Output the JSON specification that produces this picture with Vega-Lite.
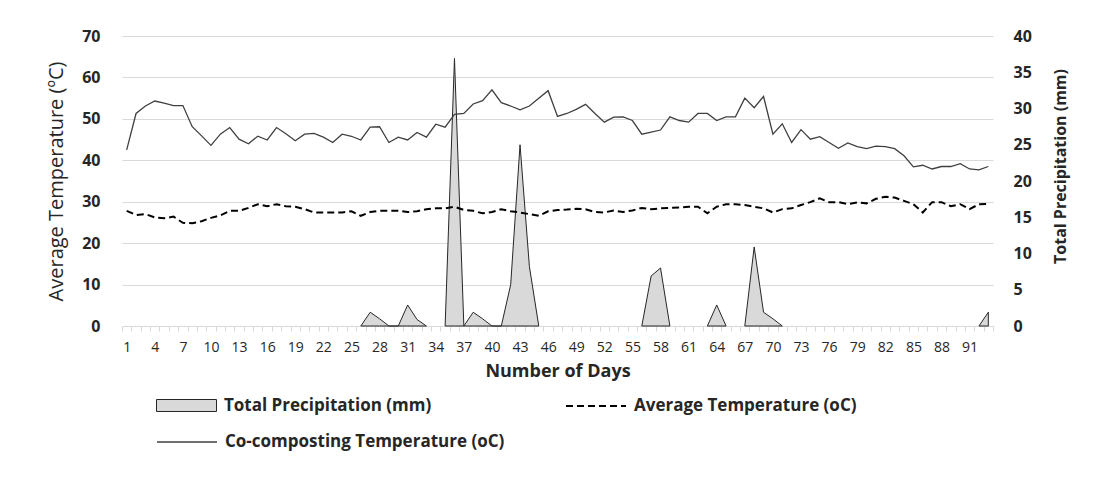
{
  "$schema": "https://vega.github.io/schema/vega-lite/v6.json",
  "width": 871,
  "height": 290,
  "autosize": {"type": "none"},
  "padding": {"left": 122, "top": 36, "right": 104, "bottom": 170},
  "background": "white",
  "config": {
    "font": "Open Sans",
    "view": {"stroke": null},
    "axis": {"labelColor": "#262626", "titleColor": "#262626"},
    "legend": {"labelFontSize": 17, "labelFontWeight": "bold", "labelColor": "#262626", "labelLimit": 500, "labelOffset": 7, "title": null}
  },
  "data": {
    "values": [
      {"day": 1, "co": 42.5, "avg": 27.8, "precip": null},
      {"day": 2, "co": 51.3, "avg": 26.8, "precip": null},
      {"day": 3, "co": 53.1, "avg": 27.0, "precip": null},
      {"day": 4, "co": 54.3, "avg": 26.2, "precip": null},
      {"day": 5, "co": 53.8, "avg": 26.0, "precip": null},
      {"day": 6, "co": 53.2, "avg": 26.4, "precip": null},
      {"day": 7, "co": 53.2, "avg": 24.9, "precip": null},
      {"day": 8, "co": 48.1, "avg": 24.8, "precip": null},
      {"day": 9, "co": 45.9, "avg": 25.3, "precip": null},
      {"day": 10, "co": 43.6, "avg": 26.1, "precip": null},
      {"day": 11, "co": 46.3, "avg": 26.7, "precip": null},
      {"day": 12, "co": 47.9, "avg": 27.8, "precip": null},
      {"day": 13, "co": 45.1, "avg": 27.8, "precip": null},
      {"day": 14, "co": 44.0, "avg": 28.5, "precip": null},
      {"day": 15, "co": 45.8, "avg": 29.4, "precip": null},
      {"day": 16, "co": 44.9, "avg": 28.9, "precip": null},
      {"day": 17, "co": 47.9, "avg": 29.4, "precip": null},
      {"day": 18, "co": 46.4, "avg": 28.9, "precip": null},
      {"day": 19, "co": 44.7, "avg": 28.8, "precip": null},
      {"day": 20, "co": 46.3, "avg": 28.2, "precip": null},
      {"day": 21, "co": 46.5, "avg": 27.4, "precip": null},
      {"day": 22, "co": 45.6, "avg": 27.4, "precip": null},
      {"day": 23, "co": 44.3, "avg": 27.4, "precip": null},
      {"day": 24, "co": 46.3, "avg": 27.4, "precip": null},
      {"day": 25, "co": 45.8, "avg": 27.7, "precip": null},
      {"day": 26, "co": 44.9, "avg": 26.6, "precip": 0},
      {"day": 27, "co": 48.0, "avg": 27.5, "precip": 1.9},
      {"day": 28, "co": 48.1, "avg": 27.8, "precip": 1.0},
      {"day": 29, "co": 44.3, "avg": 27.8, "precip": 0},
      {"day": 30, "co": 45.6, "avg": 27.8, "precip": 0},
      {"day": 31, "co": 44.9, "avg": 27.5, "precip": 2.9},
      {"day": 32, "co": 46.7, "avg": 27.7, "precip": 0.9},
      {"day": 33, "co": 45.6, "avg": 28.2, "precip": 0},
      {"day": 34, "co": 48.7, "avg": 28.4, "precip": null},
      {"day": 35, "co": 48.0, "avg": 28.4, "precip": 0},
      {"day": 36, "co": 51.1, "avg": 28.8, "precip": 36.9},
      {"day": 37, "co": 51.3, "avg": 28.0, "precip": 0},
      {"day": 38, "co": 53.6, "avg": 27.8, "precip": 1.9},
      {"day": 39, "co": 54.4, "avg": 27.2, "precip": 1.0},
      {"day": 40, "co": 57.0, "avg": 27.5, "precip": 0},
      {"day": 41, "co": 53.9, "avg": 28.2, "precip": 0},
      {"day": 42, "co": 53.1, "avg": 27.7, "precip": 5.7},
      {"day": 43, "co": 52.2, "avg": 27.4, "precip": 25.0},
      {"day": 44, "co": 53.1, "avg": 27.0, "precip": 8.2},
      {"day": 45, "co": 55.0, "avg": 26.6, "precip": 0},
      {"day": 46, "co": 56.8, "avg": 27.7, "precip": null},
      {"day": 47, "co": 50.6, "avg": 28.0, "precip": null},
      {"day": 48, "co": 51.3, "avg": 28.1, "precip": null},
      {"day": 49, "co": 52.3, "avg": 28.3, "precip": null},
      {"day": 50, "co": 53.5, "avg": 28.2, "precip": null},
      {"day": 51, "co": 51.3, "avg": 27.5, "precip": null},
      {"day": 52, "co": 49.2, "avg": 27.4, "precip": null},
      {"day": 53, "co": 50.4, "avg": 27.9, "precip": null},
      {"day": 54, "co": 50.5, "avg": 27.5, "precip": null},
      {"day": 55, "co": 49.6, "avg": 27.9, "precip": null},
      {"day": 56, "co": 46.3, "avg": 28.5, "precip": 0},
      {"day": 57, "co": 46.8, "avg": 28.2, "precip": 6.9},
      {"day": 58, "co": 47.3, "avg": 28.4, "precip": 8.0},
      {"day": 59, "co": 50.5, "avg": 28.5, "precip": 0},
      {"day": 60, "co": 49.6, "avg": 28.6, "precip": null},
      {"day": 61, "co": 49.2, "avg": 28.8, "precip": null},
      {"day": 62, "co": 51.3, "avg": 28.8, "precip": null},
      {"day": 63, "co": 51.3, "avg": 27.2, "precip": 0},
      {"day": 64, "co": 49.6, "avg": 28.8, "precip": 2.9},
      {"day": 65, "co": 50.5, "avg": 29.4, "precip": 0},
      {"day": 66, "co": 50.5, "avg": 29.4, "precip": null},
      {"day": 67, "co": 55.0, "avg": 29.2, "precip": 0},
      {"day": 68, "co": 52.7, "avg": 28.8, "precip": 10.9},
      {"day": 69, "co": 55.4, "avg": 28.4, "precip": 1.9},
      {"day": 70, "co": 46.3, "avg": 27.4, "precip": 1.0},
      {"day": 71, "co": 48.8, "avg": 28.2, "precip": 0},
      {"day": 72, "co": 44.3, "avg": 28.4, "precip": null},
      {"day": 73, "co": 47.4, "avg": 29.2, "precip": null},
      {"day": 74, "co": 45.1, "avg": 29.9, "precip": null},
      {"day": 75, "co": 45.7, "avg": 30.8, "precip": null},
      {"day": 76, "co": 44.3, "avg": 29.9, "precip": null},
      {"day": 77, "co": 42.9, "avg": 29.9, "precip": null},
      {"day": 78, "co": 44.2, "avg": 29.4, "precip": null},
      {"day": 79, "co": 43.3, "avg": 29.8, "precip": null},
      {"day": 80, "co": 42.8, "avg": 29.6, "precip": null},
      {"day": 81, "co": 43.4, "avg": 30.7, "precip": null},
      {"day": 82, "co": 43.3, "avg": 31.2, "precip": null},
      {"day": 83, "co": 42.8, "avg": 31.0, "precip": null},
      {"day": 84, "co": 41.1, "avg": 30.2, "precip": null},
      {"day": 85, "co": 38.4, "avg": 29.4, "precip": null},
      {"day": 86, "co": 38.8, "avg": 27.4, "precip": null},
      {"day": 87, "co": 37.9, "avg": 29.9, "precip": null},
      {"day": 88, "co": 38.5, "avg": 29.9, "precip": null},
      {"day": 89, "co": 38.5, "avg": 28.9, "precip": null},
      {"day": 90, "co": 39.2, "avg": 29.4, "precip": null},
      {"day": 91, "co": 37.9, "avg": 28.2, "precip": null},
      {"day": 92, "co": 37.7, "avg": 29.4, "precip": 0},
      {"day": 93, "co": 38.5, "avg": 29.5, "precip": 1.9}
    ]
  },
  "encoding": {
    "x": {
      "field": "day",
      "type": "quantitative",
      "scale": {"domain": [0.5, 93.5], "nice": false, "zero": false},
      "axis": {
        "title": "Number of Days",
        "titleFontSize": 18,
        "titleFontWeight": "bold",
        "titlePadding": 8,
        "values": [0.5,1.5,2.5,3.5,4.5,5.5,6.5,7.5,8.5,9.5,10.5,11.5,12.5,13.5,14.5,15.5,16.5,17.5,18.5,19.5,20.5,21.5,22.5,23.5,24.5,25.5,26.5,27.5,28.5,29.5,30.5,31.5,32.5,33.5,34.5,35.5,36.5,37.5,38.5,39.5,40.5,41.5,42.5,43.5,44.5,45.5,46.5,47.5,48.5,49.5,50.5,51.5,52.5,53.5,54.5,55.5,56.5,57.5,58.5,59.5,60.5,61.5,62.5,63.5,64.5,65.5,66.5,67.5,68.5,69.5,70.5,71.5,72.5,73.5,74.5,75.5,76.5,77.5,78.5,79.5,80.5,81.5,82.5,83.5,84.5,85.5,86.5,87.5,88.5,89.5,90.5,91.5,92.5,93.5,1,4,7,10,13,16,19,22,25,28,31,34,37,40,43,46,49,52,55,58,61,64,67,70,73,76,79,82,85,88,91],
        "labelExpr": "datum.value % 1 === 0 ? datum.label : ''",
        "labelOverlap": false,
        "labelBound": false,
        "labelFlush": false,
        "labelFontSize": 14,
        "labelPadding": 9,
        "grid": false,
        "domainColor": "#d9d9d9",
        "tickColor": "#d9d9d9",
        "tickSize": 5,
        "tickOpacity": {"condition": {"test": "datum.value % 1 === 0", "value": 0}, "value": 1}
      }
    }
  },
  "layer": [
    {
      "mark": {"type": "area", "stroke": "#262626", "strokeWidth": 1, "invalid": "break-paths-show-domains", "fillOpacity": 1},
      "encoding": {
        "y": {
          "field": "precip",
          "type": "quantitative",
          "scale": {"domain": [0, 40], "nice": false},
          "axis": {
            "orient": "right",
            "title": "Total Precipitation (mm)",
            "titleFontSize": 16,
            "titleFontWeight": "bold",
            "titleAngle": -90,
            "titleBaseline": "top",
            "titleY": 130,
            "titlePadding": 21,
            "values": [0, 5, 10, 15, 20, 25, 30, 35, 40],
            "labelFontSize": 16,
            "labelFontWeight": "bold",
            "labelPadding": 20,
            "ticks": false,
            "tickSize": 0,
            "domain": false,
            "grid": false
          }
        },
        "fill": {
          "datum": "Total Precipitation (mm)",
          "type": "nominal",
          "scale": {"range": ["#d9d9d9"]},
          "legend": {
            "orient": "none",
            "legendX": 34,
            "legendY": 339,
            "symbolType": "M-1,-0.2H1V0.2H-1Z",
            "symbolSize": 3600,
            "symbolStrokeColor": "#262626",
            "symbolStrokeWidth": 1,
            "symbolOpacity": 1
          }
        }
      }
    },
    {
      "layer": [
        {
          "mark": {"type": "line", "color": "#000000", "strokeWidth": 2},
          "encoding": {
            "y": {
              "field": "avg",
              "type": "quantitative",
              "scale": {"domain": [0, 70], "nice": false},
              "axis": {
                "title": "Average Temperature (ºC)",
                "titleFontSize": 20,
                "titleFontWeight": "normal",
                "titlePadding": 15,
                "values": [0, 10, 20, 30, 40, 50, 60, 70],
                "labelFontSize": 16,
                "labelFontWeight": "bold",
                "labelPadding": 22,
                "ticks": false,
                "tickSize": 0,
                "domain": false,
                "grid": true,
                "gridColor": "#d9d9d9",
                "gridWidth": 1
              }
            },
            "strokeDash": {
              "datum": "Average Temperature (oC)",
              "type": "nominal",
              "scale": {"range": [[7, 4]]},
              "legend": {
                "orient": "none",
                "legendX": 443,
                "legendY": 339,
                "symbolType": "stroke",
                "symbolSize": 3600,
                "symbolStrokeColor": "#000000",
                "symbolStrokeWidth": 2
              }
            }
          }
        },
        {
          "mark": {"type": "line", "strokeWidth": 1.3},
          "encoding": {
            "y": {"field": "co", "type": "quantitative", "scale": {"domain": [0, 70], "nice": false}},
            "stroke": {
              "datum": "Co-composting Temperature (oC)",
              "type": "nominal",
              "scale": {"range": ["#404040"]},
              "legend": {
                "orient": "none",
                "legendX": 34,
                "legendY": 375,
                "symbolType": "stroke",
                "symbolSize": 3600,
                "symbolStrokeWidth": 1.3
              }
            }
          }
        }
      ]
    }
  ],
  "resolve": {"scale": {"y": "independent"}}
}
